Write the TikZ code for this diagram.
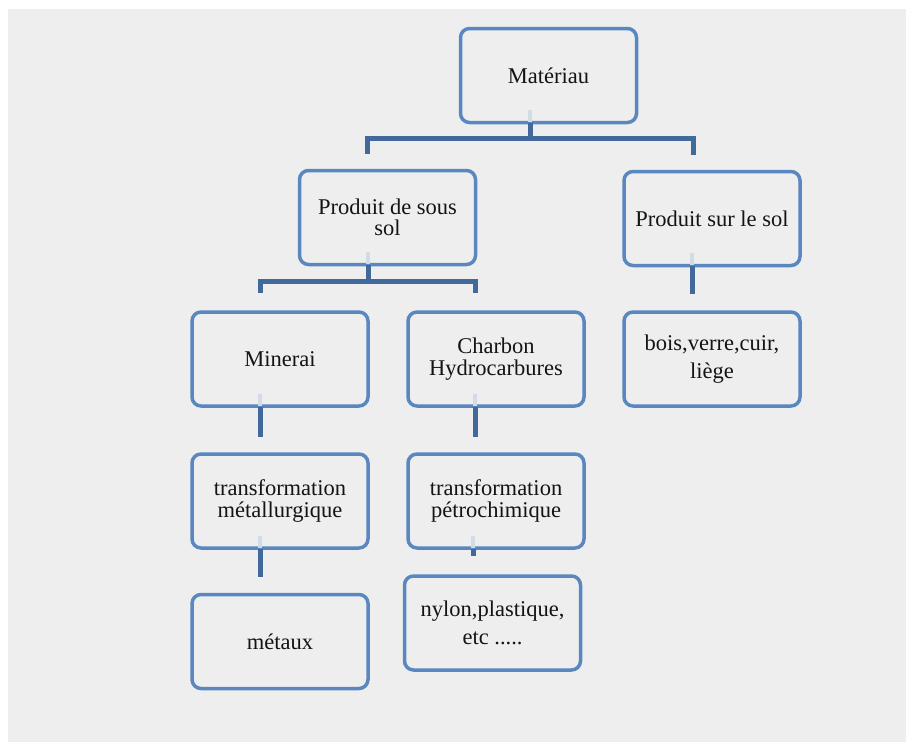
\documentclass[tikz,border=0pt]{standalone}
\usepackage{fontspec}
\setmainfont{Liberation Serif}
\definecolor{bgray}{HTML}{EEEEEE}
\definecolor{boxblue}{HTML}{5A87BF}
\definecolor{connblue}{HTML}{41699B}
\definecolor{ghostblue}{HTML}{D3DBE6}
\definecolor{txt}{HTML}{141414}
\begin{document}
\begin{tikzpicture}[x=1pt,y=-1pt,
  box/.style={draw=boxblue,line width=3.5pt,rounded corners=9pt,
    minimum width=176pt,minimum height=94pt,inner sep=0pt,align=center,
    text=txt,font=\fontsize{22.5}{21.5}\selectfont},
  conn/.style={draw=connblue,line width=5pt},
  ghost/.style={draw=ghostblue,line width=4pt}]
\useasboundingbox (0,0) rectangle (906,742);
\fill[white] (0,0) rectangle (906,742);
\fill[bgray] (8,9) rectangle (906,742);

\node[box] (mat) at (548.5,75.5) {Matériau};
\node[box] (pss) at (387.5,217.5) {Produit de sous\\sol};
\node[box] (psl) at (712,218.5) {Produit sur le sol};
\node[box] (min) at (280,359) {Minerai};
\node[box] (cha) at (496,359) {Charbon\\Hydrocarbures};
\node[box] (bois) at (712,359) {bois,verre,cuir,\\[7pt]liège};
\node[box] (tm) at (280,501) {transformation\\métallurgique};
\node[box] (tp) at (496,501) {transformation\\pétrochimique};
\node[box] (met) at (280,641.5) {métaux};
\node[box] (nyl) at (492.5,623) {nylon,plastique,\\[7pt]etc .....};

% faint stubs inside boxes
\foreach \n/\dx in {mat/-18.5,pss/-19.5,psl/-20,min/-20,cha/-21,tm/-20,tp/-23}
  \draw[ghost] ([xshift=\dx pt,yshift=14pt]\n.south) -- ([xshift=\dx pt,yshift=2pt]\n.south);

% connectors
\draw[conn] ([xshift=-18.5pt,yshift=1pt]mat.south) -- ++(0,15) -| ([xshift=-20.5pt,yshift=15pt]pss.north);
\draw[conn] ([xshift=-18.5pt,yshift=1pt]mat.south) -- ++(0,15) -| ([xshift=-19pt,yshift=15pt]psl.north);
\draw[conn] ([xshift=-19.5pt,yshift=1pt]pss.south) -- ++(0,16) -| ([xshift=-20pt,yshift=17pt]min.north);
\draw[conn] ([xshift=-19.5pt,yshift=1pt]pss.south) -- ++(0,16) -| ([xshift=-21pt,yshift=17pt]cha.north);
\draw[conn] ([xshift=-20pt,yshift=1pt]psl.south) -- ([xshift=-20pt,yshift=16pt]bois.north);
\draw[conn] ([xshift=-20pt,yshift=1pt]min.south) -- ([xshift=-20pt,yshift=15pt]tm.north);
\draw[conn] ([xshift=-21pt,yshift=1pt]cha.south) -- ([xshift=-21pt,yshift=15pt]tp.north);
\draw[conn] ([xshift=-20pt,yshift=1pt]tm.south) -- ([xshift=-20pt,yshift=16pt]met.north);
\draw[conn] ([xshift=-23pt,yshift=1pt]tp.south) -- ([xshift=-19.5pt,yshift=18pt]nyl.north);
\end{tikzpicture}
\end{document}
